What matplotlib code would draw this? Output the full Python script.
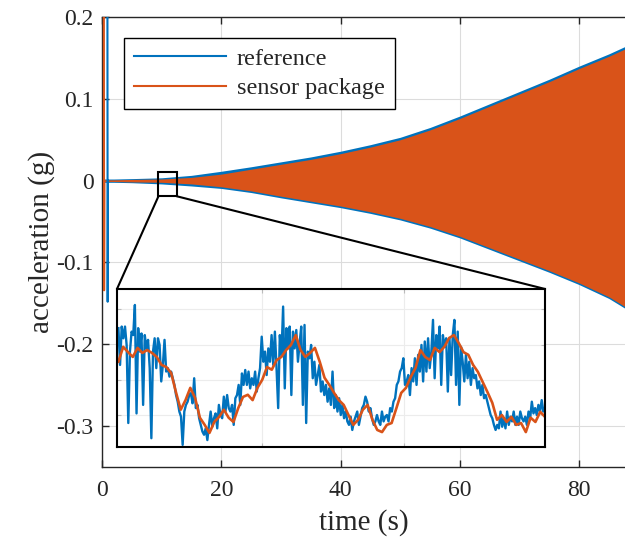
import numpy as np
import matplotlib
matplotlib.use('Agg')
import matplotlib.pyplot as plt
from matplotlib.lines import Line2D
from matplotlib.patches import Rectangle, ConnectionPatch

plt.rcParams['font.family'] = ['Liberation Serif', 'DejaVu Serif']

# MATLAB default colours
ref_color = '#0072BD'
sensor_color = '#D95319'
axis_color = '#262626'

# envelope of the (dense) main signals
env_t = [0, 2, 5, 10, 15, 20, 25, 30, 35, 40, 45, 50, 55, 60, 65, 70, 75, 80, 85, 87.7]
ref_upper = [0.002, 0.002, 0.0025, 0.0035, 0.0065, 0.0115, 0.017, 0.023, 0.029, 0.036,
             0.044, 0.053, 0.065, 0.079, 0.094, 0.109, 0.124, 0.140, 0.155, 0.164]
ref_lower = [-0.002, -0.002, -0.0025, -0.004, -0.0065, -0.0095, -0.0145, -0.021, -0.027,
             -0.033, -0.040, -0.048, -0.058, -0.070, -0.084, -0.098, -0.112, -0.127,
             -0.144, -0.156]
sensor_upper = [0.001, 0.001, 0.0015, 0.002, 0.004, 0.008, 0.014, 0.020, 0.026, 0.033,
                0.041, 0.050, 0.062, 0.076, 0.091, 0.106, 0.121, 0.137, 0.152, 0.161]
sensor_lower = [-0.001, -0.001, -0.0015, -0.002, -0.004, -0.0075, -0.0125, -0.019, -0.025,
                -0.031, -0.038, -0.046, -0.056, -0.068, -0.082, -0.096, -0.110, -0.125,
                -0.142, -0.154]

# start-up spikes
ref_spike_t = [0.9, 0.95, 1.0]
ref_spike_v = [0.3, -0.148, 0.0]
sensor_spike_t = [0.3, 0.35, 0.4]
sensor_spike_v = [0.3, -0.134, 0.0]

# zoomed window (s) and its y range (mg)
zoom_t = (9.47, 12.5)
zoom_mg = (-19.0, 10.65)
zoom_first_t = 9.48

# zoomed traces in mg, uniformly sampled over the window
ref_zoom_mg = [
    3.3, -3.6, 3.6, 1.4, 3.6, 0.1, -14.5, -1.1, 2.65, 2.0,
    7.65, -12.7, 3.3, -1.1, 2.3, -11.1, 2.0, -0.5, 1.1, -4.2,
    -17.35, -1.1, 1.4, -4.2, 1.4, 0.15, -6.7, -3.6, 1.1, -4.85,
    -4.2, -5.8, -4.85, -6.1, -7.35, -9.25, -10.5, -12.35, -13.3, -18.6,
    -12.35, -11.1, -10.5, -9.25, -8.9, -10.8, -6.1, -11.7, -11.1, -13.6,
    -14.85, -16.1, -16.7, -15.5, -17.7, -14.85, -12.35, -15.2, -13.6, -12.7,
    -15.5, -11.1, -13.0, -13.6, -9.55, -12.35, -9.25, -11.7, -12.35, -11.1,
    -14.85, -9.85, -9.25, -7.35, -11.1, -5.2, -7.35, -4.55, -7.35, -4.85,
    -8.0, -6.1, -7.35, -4.85, -8.6, -6.1, -4.2, 1.7, -3.0,
    -1.1, -5.5, -0.5, -3.0, 2.0, -3.6, 2.65, -4.2, -11.7, 2.0,
    -1.7, 7.35, -8.0, 3.3, -0.5, 3.6, -9.25, 2.65, -0.5, 2.95,
    -3.0, 0.45, 3.6, -11.1, 3.9, -14.5, -1.1, -2.35, 0.15, -6.1,
    -3.0, -7.35, -5.5, -3.6, -8.6, -6.7, -9.25, -7.35, -10.5, -8.0,
    -11.1, -4.85, -11.7, -9.25, -12.35, -9.85, -13.0, -11.1, -13.6, -12.35,
    -14.2, -14.85, -13.3, -15.8, -14.2, -13.3, -12.35, -14.85, -13.3, -11.7,
    -11.1, -9.55, -10.5, -12.35, -11.7, -13.6, -14.85, -14.2, -13.0, -14.2,
    -14.85, -12.35, -14.2, -13.3, -13.0, -14.2, -11.7, -12.35, -10.5, -9.85,
    -7.35, -6.7, -4.85, -4.2, -2.35, -7.35,
    -6.7, -5.5, -9.25, -4.2, -6.7, -2.35, -7.35, -1.7, -4.85, 0.15,
    -6.7, 0.8, -4.85, 1.4, -4.2, -1.1, 4.85, -6.1, 2.0, -0.5,
    3.6, -7.35, 2.0, -0.2, 1.4, -8.6, 1.4, -5.5, 2.0, 4.85,
    -7.35, 2.65, -11.1, -0.2, -3.0, -6.7, -1.7, -6.1, -3.0, -7.35,
    -4.2, -6.1, -5.5, -8.0, -6.7, -9.25, -7.35, -9.85, -9.25, -10.5,
    -11.7, -13.0, -13.6, -14.85, -15.8, -14.85, -15.5, -12.35, -15.2, -13.6,
    -15.5, -12.35, -14.85, -13.3, -14.2, -12.35, -14.85, -13.3, -14.85, -12.35,
    -13.6, -14.2, -13.3, -14.85, -12.35, -13.6, -10.5, -12.7, -11.7, -13.0,
    -11.1, -12.35, -10.2, -12.35, -11.6,
]
sensor_zoom_mg = [
    -3.0, -0.2, -1.2, -2.1, -0.4, -1.35, -0.8, -1.35, -2.1, -3.6,
    -4.0, -5.1, -8.7, -12.0, -10.2, -7.9, -9.8, -13.5, -14.85, -16.35,
    -14.3, -13.35, -12.0, -13.5, -14.3, -11.7, -9.6, -9.2, -10.2, -7.9, -6.4,
    -4.0, -4.5, -2.7, -2.1, -0.8, 0.15, 2.0, -0.8, -2.1, -1.35,
    -0.4, -3.0, -6.0, -7.35, -8.85, -10.2, -11.1, -13.0, -14.85, -13.9,
    -12.0, -11.1, -13.9, -15.8, -16.2, -14.85, -14.5, -11.7, -8.85,
    -7.9, -5.85, -4.15, -0.8, -2.1, -2.7, -0.4, -1.2, -0.2, 1.45,
    2.0, 0.5, -1.2, -1.7, -3.6, -4.9, -6.8, -8.7, -10.7, -13.9,
    -13.0, -14.3, -13.35, -14.85, -14.5, -16.2, -13.5, -14.3, -12.4, -13.35,
]

xtick_vals = [0, 20, 40, 60, 80]
ytick_vals = [-0.3, -0.2, -0.1, 0, 0.1, 0.2]
ytick_labels = ['-0.3', '-0.2', '-0.1', '0', '0.1', '0.2']

fig = plt.figure(figsize=(6.25, 5.44), dpi=100)
ax = fig.add_axes([0.1632, 0.1415, 0.8368, 0.8272])

# main signals
ax.fill_between(env_t, ref_lower, ref_upper, color=ref_color, lw=0)
ax.fill_between(env_t, sensor_lower, sensor_upper, color=sensor_color, lw=0)
ax.plot(sensor_spike_t, sensor_spike_v, color=sensor_color, lw=1.5, zorder=3)
ax.plot(ref_spike_t, ref_spike_v, color=ref_color, lw=1.5, zorder=3)

ax.set_xlim(0, 87.7)
ax.set_ylim(-0.35, 0.2)
ax.set_xticks(xtick_vals)
ax.set_yticks(ytick_vals)
ax.set_yticklabels(ytick_labels)
ax.tick_params(direction='in', length=5, width=1, colors=axis_color, labelsize=17,
               top=True, right=False)
ax.tick_params(axis='x', pad=9)
ax.tick_params(axis='y', pad=6)
ax.grid(True, color='#dcdcdc', lw=0.8)
ax.set_axisbelow(True)
for side in ['left', 'bottom', 'top']:
    ax.spines[side].set_color(axis_color)
    ax.spines[side].set_linewidth(1)
ax.spines['right'].set_visible(False)
ax.set_xlabel('time (s)', fontsize=21, color=axis_color, labelpad=6)
ax.set_ylabel('acceleration (g)', fontsize=21, color=axis_color, labelpad=1)

# legend
handles = [Line2D([], [], color=ref_color, lw=1.5),
           Line2D([], [], color=sensor_color, lw=1.5)]
leg = ax.legend(handles, ['reference', 'sensor package'], loc='upper left',
                bbox_to_anchor=(0.042, 0.953), borderaxespad=0, fontsize=17.5,
                handlelength=3.8, handletextpad=0.45, labelspacing=0.3,
                borderpad=0.4, fancybox=False, framealpha=1)
leg.get_frame().set_edgecolor('black')
leg.get_frame().set_linewidth(1)
for txt in leg.get_texts():
    txt.set_color(axis_color)

# zoom rectangle on the main axes
rect_y0 = zoom_mg[0] / 1000
rect_y1 = zoom_mg[1] / 1000
ax.add_patch(Rectangle((zoom_t[0], rect_y0), zoom_t[1] - zoom_t[0], rect_y1 - rect_y0,
                       fill=False, edgecolor='black', lw=1.5, zorder=5))

# inset
axin = fig.add_axes([0.1872, 0.1783, 0.6848, 0.2905])
t_ref = np.linspace(zoom_first_t, zoom_t[1], len(ref_zoom_mg))
t_sen = np.linspace(zoom_first_t, zoom_t[1], len(sensor_zoom_mg))
axin.plot(t_ref, ref_zoom_mg, color=ref_color, lw=1.7)
axin.plot(t_sen, sensor_zoom_mg, color=sensor_color, lw=1.9)
axin.set_xlim(*zoom_t)
axin.set_ylim(*zoom_mg)
axin.set_xticks([10.5, 11.5])
axin.set_yticks([-13.0, -6.4, 0.2, 6.8])
axin.tick_params(direction='in', length=3, colors='#bbbbbb', labelleft=False,
                 labelbottom=False, top=True, right=True)
axin.grid(True, color='#ececec', lw=0.8)
axin.set_axisbelow(True)
for s in axin.spines.values():
    s.set_color('black')
    s.set_linewidth(1.5)

# connector lines
for xa, xb in [(zoom_t[0], 0), (zoom_t[1], 1)]:
    con = ConnectionPatch(xyA=(xa, rect_y0), coordsA=ax.transData,
                          xyB=(xb, 1), coordsB=axin.transAxes,
                          color='black', lw=1.5, zorder=4)
    fig.add_artist(con)

fig.savefig('out.png', dpi=100)
